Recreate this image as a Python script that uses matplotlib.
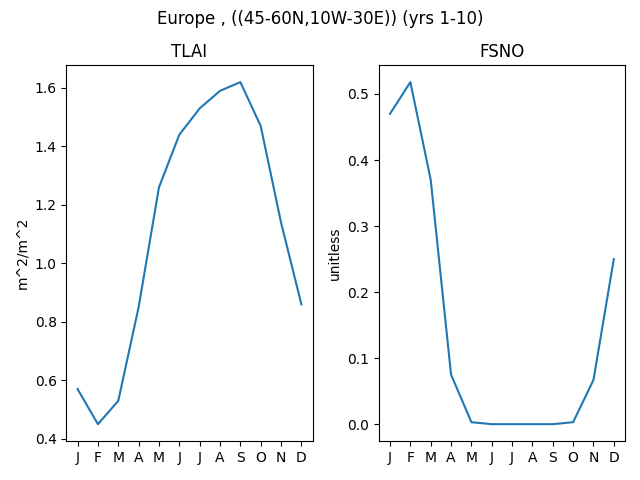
import matplotlib
matplotlib.use('Agg')
import matplotlib.pyplot as plt

months = ['J', 'F', 'M', 'A', 'M', 'J', 'J', 'A', 'S', 'O', 'N', 'D']
tlai = [0.57, 0.45, 0.53, 0.85, 1.26, 1.44, 1.53, 1.59, 1.62, 1.47, 1.14, 0.86]
fsno = [0.47, 0.518, 0.37, 0.075, 0.003, 0.0, 0.0, 0.0, 0.0, 0.003, 0.067, 0.25]

fig, axes = plt.subplots(1, 2, figsize=(6.4, 4.8))
fig.suptitle('Europe , ((45-60N,10W-30E)) (yrs 1-10)')

x = range(len(months))
axes[0].plot(x, tlai)
axes[0].set_title('TLAI')
axes[0].set_ylabel('m^2/m^2')
axes[1].plot(x, fsno)
axes[1].set_title('FSNO')
axes[1].set_ylabel('unitless')
for ax in axes:
	ax.set_xticks(list(x))
	ax.set_xticklabels(months)

fig.tight_layout()
fig.subplots_adjust(top=1 - 65 / 480.)
fig.savefig('out.png', dpi=100)
